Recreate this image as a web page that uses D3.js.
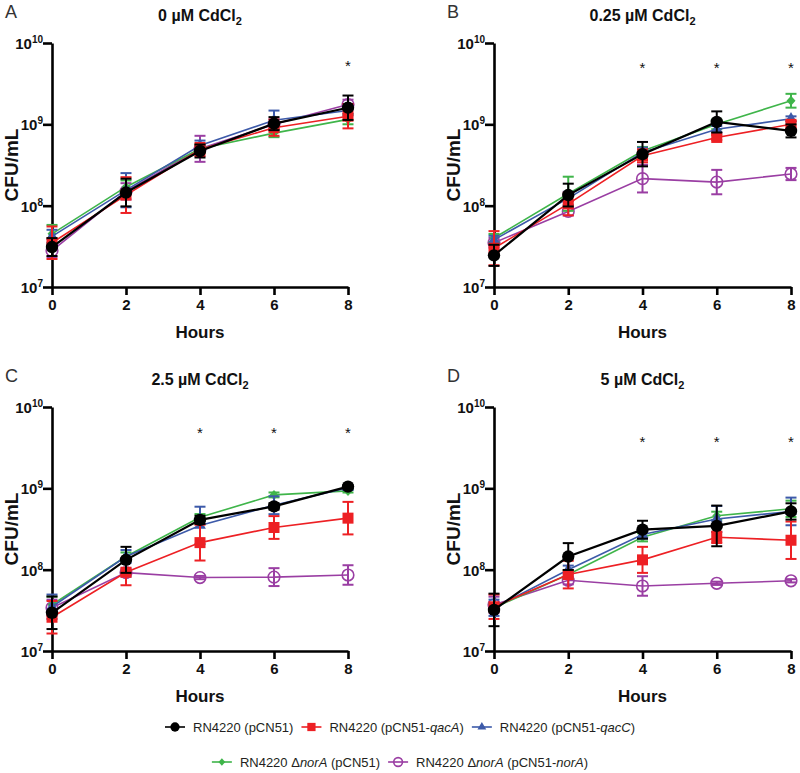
<!DOCTYPE html>
<html>
<head>
<meta charset="utf-8">
<script src="https://cdn.jsdelivr.net/npm/d3@7"></script>
<style>
  body { margin: 0; background: #fff; }
  svg { font-family: "Liberation Sans", Arial, sans-serif; }
</style>
</head>
<body>
<div class="chart"></div>
<script>
// time points (hours)
var hours = [0, 2, 4, 6, 8];

// strain order: pCN51, pCN51-qacA, pCN51-qacC, dnorA pCN51, dnorA pCN51-norA
var legendParts = [
  [["RN4220 (pCN51)", false]],
  [["RN4220 (pCN51-", false], ["qacA", true], [")", false]],
  [["RN4220 (pCN51-", false], ["qacC", true], [")", false]],
  [["RN4220 \u0394", false], ["norA", true], [" (pCN51)", false]],
  [["RN4220 \u0394", false], ["norA", true], [" (pCN51-", false], ["norA", true], [")", false]]
];

var panelLetters = ["A", "B", "C", "D"];
var panelConc = ["0", "0.25", "2.5", "5"];

// CFU/mL means, one row per strain
var mean0 = [
  [3.1e7, 1.45e8, 4.7e8, 1.02e9, 1.6e9],
  [3.5e7, 1.35e8, 4.9e8, 9.1e8, 1.26e9],
  [4.2e7, 1.55e8, 5.5e8, 1.12e9, 1.48e9],
  [4.5e7, 1.7e8, 5.0e8, 7.8e8, 1.15e9],
  [2.8e7, 1.5e8, 5.0e8, 1.0e9, 1.75e9]
];
// error bar half-widths in log10 units
var sd0 = [
  [0.11, 0.17, 0.08, 0.08, 0.15],
  [0.20, 0.22, 0.08, 0.10, 0.15],
  [0.08, 0.21, 0.06, 0.12, 0.06],
  [0.11, 0.08, 0.05, 0.05, 0.06],
  [0.08, 0.10, 0.16, 0.06, 0.06]
];

var mean025 = [
  [2.45e7, 1.35e8, 4.3e8, 1.07e9, 8.3e8],
  [3.0e7, 1.05e8, 4.1e8, 6.9e8, 1.0e9],
  [3.8e7, 1.23e8, 4.5e8, 8.7e8, 1.17e9],
  [4.0e7, 1.4e8, 4.7e8, 1.0e9, 1.95e9],
  [3.5e7, 8.5e7, 2.15e8, 1.95e8, 2.45e8]
];
var sd025 = [
  [0.13, 0.14, 0.15, 0.13, 0.08],
  [0.21, 0.14, 0.08, 0.03, 0.04],
  [0.05, 0.08, 0.06, 0.04, 0.03],
  [0.05, 0.21, 0.05, 0.06, 0.085],
  [0.06, 0.05, 0.17, 0.15, 0.075]
];

var mean25 = [
  [2.95e7, 1.32e8, 4.1e8, 6.0e8, 1.05e9],
  [2.6e7, 9.3e7, 2.15e8, 3.3e8, 4.3e8],
  [3.5e7, 1.45e8, 3.5e8, 6.2e8, 1.02e9],
  [3.7e7, 1.45e8, 4.4e8, 8.3e8, 9.3e8],
  [3.4e7, 9.2e7, 8.0e7, 8.1e7, 8.6e7]
];
var sd25 = [
  [0.20, 0.16, 0.05, 0.04, 0.02],
  [0.20, 0.16, 0.22, 0.14, 0.20],
  [0.15, 0.08, 0.23, 0.11, 0.02],
  [0.10, 0.05, 0.04, 0.03, 0.02],
  [0.10, 0.05, 0.02, 0.11, 0.12]
];

var mean5 = [
  [3.2e7, 1.45e8, 3.1e8, 3.45e8, 5.2e8],
  [3.5e7, 8.7e7, 1.32e8, 2.5e8, 2.3e8],
  [3.4e7, 1.0e8, 2.7e8, 4.2e8, 5.2e8],
  [3.4e7, 8.7e7, 2.5e8, 4.6e8, 5.6e8],
  [3.7e7, 7.4e7, 6.3e7, 6.8e7, 7.3e7]
];
var sd5 = [
  [0.20, 0.165, 0.11, 0.25, 0.10],
  [0.15, 0.17, 0.16, 0.07, 0.23],
  [0.10, 0.05, 0.05, 0.16, 0.17],
  [0.05, 0.05, 0.05, 0.05, 0.10],
  [0.10, 0.05, 0.12, 0.02, 0.02]
];

// significance marks
var sigHours = [[8], [4, 6, 8], [4, 6, 8], [4, 6, 8]];
var sigLevel = [5.6e9, 5.4e9, 5.2e9, 4.0e9];

var yTickExp = [7, 8, 9, 10];

var panelMeans = [mean0, mean025, mean25, mean5];
var panelSds = [sd0, sd025, sd25, sd5];

// styling
var colors = ["#000000", "#ed2024", "#3d5aa9", "#3fb54a", "#9a3ea3"];
var shapes = ["circle", "square", "triangle", "diamond", "open"];
var drawOrder = [4, 3, 2, 1, 0];

var svg = d3.select(".chart")
  .append("svg")
  .attr("width", 800)
  .attr("height", 773);

// panel frames (axis pixel boxes)
var frames = [
  { left: 52, right: 348, top: 43, bottom: 287 },
  { left: 494, right: 791, top: 43, bottom: 287 },
  { left: 52, right: 348, top: 407, bottom: 651 },
  { left: 494, right: 791, top: 407, bottom: 651 }
];

function drawMarker(sel, shape, color, size) {
  var s = size || 1;
  if (shape === "circle") {
    sel.append("circle").attr("r", 6.2 * s).attr("fill", color);
  } else if (shape === "open") {
    sel.append("circle").attr("r", 5.8 * s).attr("fill", "none")
      .attr("stroke", color).attr("stroke-width", 1.6);
  } else if (shape === "square") {
    sel.append("rect").attr("x", -5.5 * s).attr("y", -5.5 * s)
      .attr("width", 11 * s).attr("height", 11 * s).attr("fill", color);
  } else if (shape === "triangle") {
    sel.append("path").attr("d", d3.symbol().type(d3.symbolTriangle).size(60 * s * s))
      .attr("fill", color);
  } else if (shape === "diamond") {
    sel.append("path").attr("d", "M0," + (-5 * s) + "L" + (4.5 * s) + ",0L0," + (5 * s) + "L" + (-4.5 * s) + ",0Z")
      .attr("fill", color);
  }
}

frames.forEach(function (f, p) {
  var x = d3.scaleLinear().domain([0, 8]).range([f.left, f.right]);
  var y = d3.scaleLog().domain([1e7, 1e10]).range([f.bottom, f.top]);
  var g = svg.append("g");

  // panel letter
  g.append("text")
    .attr("x", f.left - 47)
    .attr("y", f.top - 25)
    .attr("font-size", 18)
    .attr("fill", "#333")
    .text(panelLetters[p]);

  // title
  var title = g.append("text")
    .attr("x", (f.left + f.right) / 2)
    .attr("y", f.top - 22)
    .attr("text-anchor", "middle")
    .attr("font-size", 16)
    .attr("font-weight", "bold")
    .attr("fill", "#111");
  title.append("tspan").text(panelConc[p] + " \u00b5M CdCl");
  title.append("tspan").attr("font-size", 11).attr("dy", 4).text("2");

  // axes
  var xAxis = d3.axisBottom(x).tickValues(hours).tickSize(8).tickSizeOuter(0);
  var gx = g.append("g")
    .attr("transform", "translate(0," + f.bottom + ")")
    .call(xAxis);
  gx.select(".domain").attr("stroke-width", 2.6);
  gx.selectAll(".tick line").attr("stroke-width", 2.6);
  gx.selectAll(".tick text")
    .attr("font-size", 15).attr("font-weight", "bold")
    .attr("font-family", "Liberation Sans, Arial, sans-serif")
    .attr("fill", "#111").attr("dy", "0.95em").attr("y", 9);

  var yAxis = d3.axisLeft(y).tickValues(yTickExp.map(function (e) { return Math.pow(10, e); }))
    .tickSize(9).tickSizeOuter(0).tickFormat("");
  var gy = g.append("g")
    .attr("transform", "translate(" + f.left + ",0)")
    .call(yAxis);
  gy.select(".domain").attr("stroke-width", 2.6);
  gy.selectAll(".tick line").attr("stroke-width", 2.6);

  yTickExp.forEach(function (e) {
    var t = g.append("text")
      .attr("x", f.left - 9)
      .attr("y", y(Math.pow(10, e)) + 6)
      .attr("text-anchor", "end")
      .attr("font-weight", "bold")
      .attr("fill", "#111")
      .attr("font-size", 15);
    t.append("tspan").text("10");
    t.append("tspan").attr("font-size", 10).attr("dy", -6).text(e);
  });

  // axis labels
  g.append("text")
    .attr("transform", "translate(" + (f.left - 34) + "," + ((f.top + f.bottom) / 2) + ") rotate(-90)")
    .attr("text-anchor", "middle")
    .attr("font-size", 19)
    .attr("font-weight", "bold")
    .attr("fill", "#111")
    .text("CFU/mL");

  g.append("text")
    .attr("x", (f.left + f.right) / 2)
    .attr("y", f.bottom + 51)
    .attr("text-anchor", "middle")
    .attr("font-size", 17)
    .attr("font-weight", "bold")
    .attr("fill", "#111")
    .text("Hours");

  // significance asterisks
  sigHours[p].forEach(function (h) {
    g.append("text")
      .attr("x", x(h))
      .attr("y", y(sigLevel[p]) + 8)
      .attr("text-anchor", "middle")
      .attr("font-size", 15)
      .attr("fill", "#111")
      .text("*");
  });

  var means = panelMeans[p];
  var sds = panelSds[p];
  var line = d3.line().x(function (d, i) { return x(hours[i]); }).y(function (d) { return y(d); });

  drawOrder.forEach(function (s) {
    var c = colors[s];
    var sg = g.append("g");
    sg.append("path")
      .datum(means[s])
      .attr("d", line)
      .attr("fill", "none")
      .attr("stroke", c)
      .attr("stroke-width", s === 0 ? 2.2 : 1.6);

    // error bars (symmetric on the log axis)
    means[s].forEach(function (m, i) {
      var cx = x(hours[i]);
      var k = Math.pow(10, sds[s][i]);
      var hi = y(m * k);
      var lo = y(m / k);
      var eb = sg.append("g").attr("stroke", c).attr("stroke-width", 2);
      eb.append("line").attr("x1", cx).attr("x2", cx).attr("y1", hi).attr("y2", lo);
      eb.append("line").attr("x1", cx - 5.5).attr("x2", cx + 5.5).attr("y1", hi).attr("y2", hi);
      eb.append("line").attr("x1", cx - 5.5).attr("x2", cx + 5.5).attr("y1", lo).attr("y2", lo);
    });

    means[s].forEach(function (m, i) {
      var mg = sg.append("g").attr("transform", "translate(" + x(hours[i]) + "," + y(m) + ")");
      drawMarker(mg, shapes[s], c);
    });
  });
});

// legend
var rows = [[0, 1, 2], [3, 4]];
var rowY = [727, 762];
rows.forEach(function (row, r) {
  var lg = svg.append("g");
  var cursor = 0;
  row.forEach(function (s) {
    var item = lg.append("g").attr("transform", "translate(" + cursor + ",0)");
    item.append("line")
      .attr("x1", 0).attr("x2", 20).attr("y1", 0).attr("y2", 0)
      .attr("stroke", colors[s]).attr("stroke-width", 1.6);
    var m = item.append("g").attr("transform", "translate(10,0)");
    drawMarker(m, shapes[s], colors[s], 0.75);
    var t = item.append("text")
      .attr("x", 28)
      .attr("y", 4.5)
      .attr("font-size", 13)
      .attr("fill", "#231f20");
    legendParts[s].forEach(function (part) {
      t.append("tspan").attr("font-style", part[1] ? "italic" : "normal").text(part[0]);
    });
    cursor += 28 + t.node().getComputedTextLength() + 8;
  });
  var total = cursor - 8;
  lg.attr("transform", "translate(" + (400 - total / 2) + "," + rowY[r] + ")");
});
</script>
</body>
</html>
